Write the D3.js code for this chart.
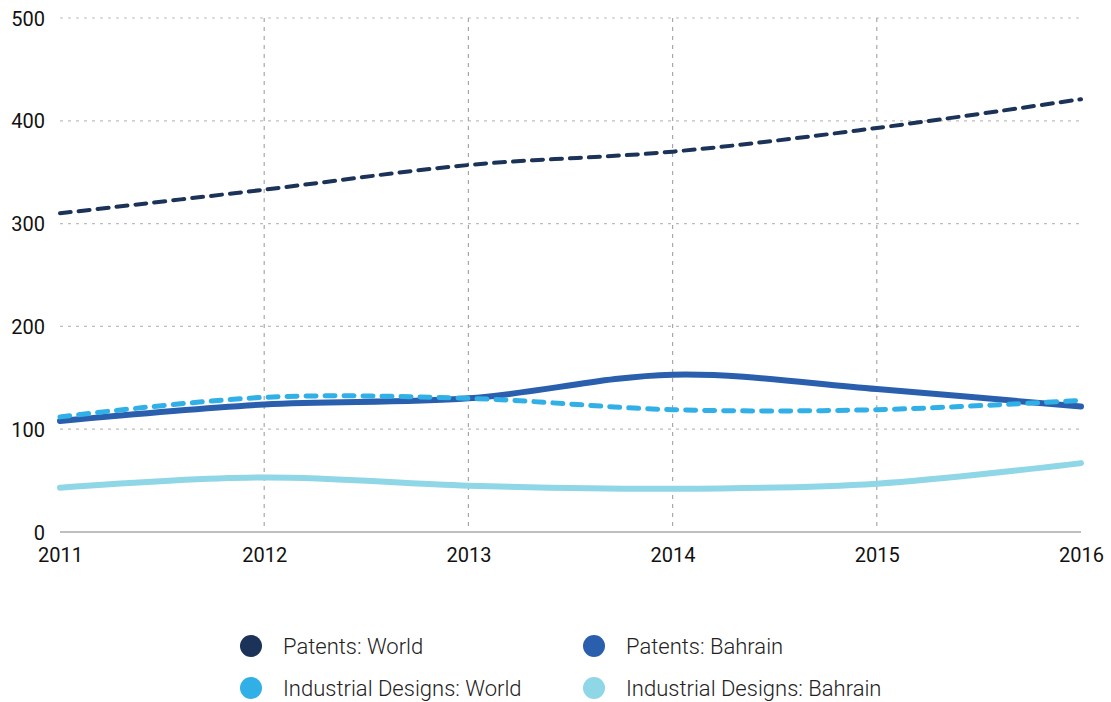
<!DOCTYPE html>
<html><head><meta charset="utf-8">
<script src="https://cdn.jsdelivr.net/npm/d3@7"></script>
<style>body{margin:0;background:#fff}svg{display:block}</style>
</head><body>
<svg id="c" width="1111" height="702"></svg>
<script>
const years = [2011, 2012, 2013, 2014, 2015, 2016];
const yTicks = [0, 100, 200, 300, 400, 500];
const patentsWorld = [310, 333, 357, 370, 393, 421];
const patentsBahrain = [108, 124, 130, 153, 139, 122];
const designsWorld = [112, 131, 130, 119, 119, 128];
const designsBahrain = [43, 53, 45, 42, 47, 67];
const seriesNames = ["Patents: World", "Patents: Bahrain", "Industrial Designs: World", "Industrial Designs: Bahrain"];

const series = [
  {name: seriesNames[0], values: patentsWorld, color: "#1b3358", width: 4, dash: "11,8"},
  {name: seriesNames[1], values: patentsBahrain, color: "#2a5fad", width: 6, dash: null},
  {name: seriesNames[2], values: designsWorld, color: "#30b0e6", width: 5, dash: "10,9"},
  {name: seriesNames[3], values: designsBahrain, color: "#8fd6e6", width: 6, dash: null}
];

const svg = d3.select("#c");
const x = d3.scaleLinear().domain([2011, 2016]).range([60, 1081]);
const y = d3.scaleLinear().domain([0, 500]).range([532, 18]);
const font = "Roboto, 'Liberation Sans', Arial, sans-serif";

// horizontal grid
svg.append("g").selectAll("line").data(yTicks.filter(d => d > 0)).join("line")
  .attr("x1", 60).attr("x2", 1081).attr("y1", d => y(d)).attr("y2", d => y(d))
  .attr("stroke", "#bdbdbd").attr("stroke-width", 1.2).attr("stroke-dasharray", "3,5");
// vertical grid
svg.append("g").selectAll("line").data(years.slice(1, -1)).join("line")
  .attr("x1", d => x(d)).attr("x2", d => x(d)).attr("y1", 18).attr("y2", 532)
  .attr("stroke", "#a8a8a8").attr("stroke-width", 1.2).attr("stroke-dasharray", "4,5");
// baseline
svg.append("line").attr("x1", 60).attr("x2", 1081).attr("y1", y(0)).attr("y2", y(0))
  .attr("stroke", "#bfbfbf").attr("stroke-width", 2);

// axes labels
const yAxis = d3.axisLeft(y).tickValues(yTicks).tickSize(0).tickPadding(0);
const gy = svg.append("g").attr("transform", "translate(45,0)").call(yAxis);
gy.select(".domain").remove();
gy.selectAll("text").attr("font-family", font).attr("font-size", 20).attr("fill", "#111").attr("dy", "0.35em");

const xAxis = d3.axisBottom(x).tickValues(years).tickFormat(d3.format("d")).tickSize(0).tickPadding(0);
const gx = svg.append("g").attr("transform", "translate(0,545)").call(xAxis);
gx.select(".domain").remove();
gx.selectAll("text").attr("font-family", font).attr("font-size", 20).attr("fill", "#111").attr("dy", "0.85em");

// lines
const line = d3.line().x((d, i) => x(years[i])).y(d => y(d)).curve(d3.curveCatmullRom.alpha(0.5));
svg.append("g").selectAll("path").data(series).join("path")
  .attr("d", d => line(d.values))
  .attr("fill", "none").attr("stroke", d => d.color).attr("stroke-width", d => d.width)
  .attr("stroke-linecap", "round").attr("stroke-dasharray", d => d.dash);

// legend
const lg = svg.append("g").selectAll("g").data(series).join("g")
  .attr("transform", (d, i) => `translate(${i % 2 === 0 ? 251 : 594},${i < 2 ? 646 : 688})`);
lg.append("circle").attr("r", 11).attr("fill", d => d.color);
lg.append("text").attr("x", 32).attr("dy", "0.35em").text(d => d.name)
  .attr("font-family", font).attr("font-size", 22).attr("font-weight", 300).attr("fill", "#222");
</script>
</body></html>
